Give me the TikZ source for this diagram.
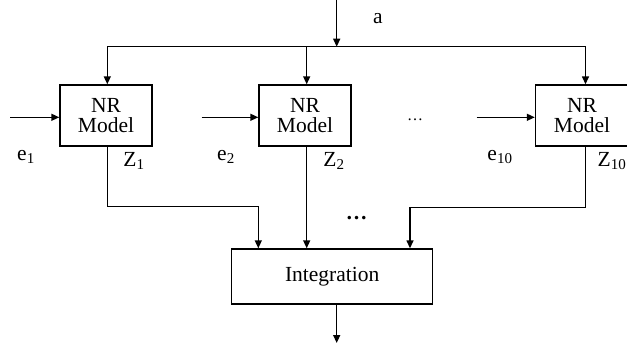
\documentclass[tikz,border=0pt]{standalone}
\usepackage{fontspec}
\setmainfont{Liberation Serif}
\usetikzlibrary{arrows.meta,calc}
\begin{document}
\begin{tikzpicture}[x=1pt,y=-1pt,
  blk/.style={draw,line width=1.4pt,minimum width=92pt,minimum height=61pt,inner sep=0pt,align=center,font=\fontsize{21.5}{22}\selectfont},
  ln/.style={line width=1.4pt},
  arr/.style={line width=1.4pt,-{Triangle[length=8pt,width=7pt]}},
  lbl/.style={font=\fontsize{21.5}{22}\selectfont,inner sep=0pt}]
\useasboundingbox (0,0) rectangle (627,349);
\node[blk] (b1) at (106,115.5) {NR\\[-2pt]Model};
\node[blk] (b2) at (305,115.5) {NR\\[-2pt]Model};
\node[blk,minimum width=93pt] (b3) at (582,115.5) {NR\\[-2pt]Model};
\node[blk,minimum width=201pt,minimum height=55pt] (int) at (332.2,276.5) {Integration};
% top input a
\coordinate (atop) at (336.7,0);
\coordinate (abus) at (336.7,46.7);
\coordinate (busL) at (107.3,46.7);
\coordinate (busR) at (585.5,46.7);
\draw[arr] (atop) -- (abus);
\node[lbl] (a) at (378,19) {a};
\draw[ln] (busL) -- (busR);
\draw[arr] (busL) -- (busL |- b1.north);
\draw[arr] (306.7,46.7) coordinate (bus2) -- (bus2 |- b2.north);
\draw[arr] (busR) -- (busR |- b3.north);
% e inputs
\coordinate (e1s) at (10,117.3);
\coordinate (e2s) at (201.7,117.3);
\coordinate (e3s) at (476.7,117.3);
\draw[arr] (e1s) -- (e1s -| b1.west);
\draw[arr] (e2s) -- (e2s -| b2.west);
\draw[arr] (e3s) -- (e3s -| b3.west);
\node[lbl] (e1) at (26,157) {e\textsubscript{1}};
\node[lbl] (e2) at (226,157) {e\textsubscript{2}};
\node[lbl] (e10) at (500,157) {e\textsubscript{10}};
\node[lbl] (z1) at (134,161) {Z\textsubscript{1}};
\node[lbl] (z2) at (334,161) {Z\textsubscript{2}};
\node[lbl] (z10) at (612,161) {Z\textsubscript{10}};
\node[lbl] (dots1) at (415,120) {\fontsize{16}{16}\selectfont\dots};
\node[lbl] (dots2) at (356.7,218) {\bfseries\dots};
% outputs to integration
\coordinate (o1) at (107.3,146);
\coordinate (o2) at (306.7,146);
\coordinate (o3) at (585.5,146);
\draw[arr] (o1) -- (107.3,206.7) -- (258.3,206.7) coordinate (k1) -- (k1 |- int.north);
\draw[arr] (o2) -- (o2 |- int.north);
\draw[arr] (o3) -- (585.5,207.7) -- (410,207.7) coordinate (k3) -- (k3 |- int.north);
\coordinate (out) at (336.7,343);
\draw[arr] (int.south -| out) -- (out);
\end{tikzpicture}
\end{document}
